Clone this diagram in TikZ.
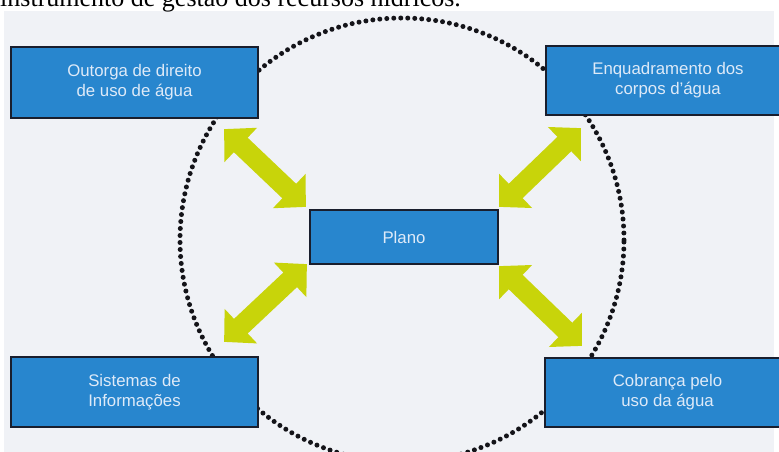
\documentclass[tikz,border=0pt]{standalone}
\usepackage{fontspec}
\setmainfont{Liberation Serif}
\setsansfont{Liberation Sans}
\usetikzlibrary{arrows.meta,calc}
\definecolor{bg}{RGB}{240,242,246}
\definecolor{boxblue}{RGB}{40,134,206}
\definecolor{boxline}{RGB}{25,30,45}
\definecolor{lime}{RGB}{200,212,10}
\definecolor{txt}{RGB}{222,234,248}
\definecolor{dotc}{RGB}{20,20,25}
\tikzset{
  box/.style={draw=boxline, line width=2.2pt, fill=boxblue, text=txt,
    font=\sffamily\fontsize{16.8}{20}\selectfont, align=center, inner sep=0pt},
  bigarrow/.style={draw=lime, line width=20pt,
    {Triangle[length=23pt,width=46pt]}-{Triangle[length=23pt,width=46pt]}},
  dotline/.style={draw=dotc, line width=5pt, line cap=round, dash pattern=on 0pt off 7pt},
}
\begin{document}
\begin{tikzpicture}[x=1pt,y=-1pt]
\useasboundingbox (0,0) rectangle (779,452);
\fill[white] (0,0) rectangle (779,452);
\fill[bg] (4,11) rectangle (774,452);
\node[anchor=base west, inner sep=0pt, font=\fontsize{26}{30}\selectfont] (title) at (0,7) {instrumento de gestão dos recursos hídricos.};
\draw[dotline] (402,240) circle[radius=222pt];
\node[box, minimum width=247pt, minimum height=71pt] (tl) at (134.5,82.5) {Outorga de direito\\de uso de água};
\node[box, minimum width=244pt, minimum height=69pt] (tr) at (668,80.5) {Enquadramento dos\\corpos d'água};
\node[box, minimum width=188pt, minimum height=54pt] (pl) at (404,237) {Plano};
\node[box, minimum width=247pt, minimum height=70pt] (bl) at (134.5,392) {Sistemas de\\Informações};
\node[box, minimum width=245pt, minimum height=69pt] (br) at (667.5,392.5) {Cobrança pelo\\uso da água};
\coordinate (a1s) at ($(tl.south east)+(-35,10)$);
\coordinate (a1e) at ($(pl.north west)+(-3,-2)$);
\coordinate (a2s) at ($(tr.south west)+(36,12)$);
\coordinate (a2e) at ($(pl.north east)+(0,-2)$);
\coordinate (a3s) at ($(bl.north east)+(-35,-14)$);
\coordinate (a3e) at ($(pl.south west)+(-2,-1)$);
\coordinate (a4s) at ($(br.north west)+(38,-11)$);
\coordinate (a4e) at ($(pl.south east)+(0,1)$);
\draw[bigarrow] (a1s) -- (a1e);
\draw[bigarrow] (a2s) -- (a2e);
\draw[bigarrow] (a3s) -- (a3e);
\draw[bigarrow] (a4s) -- (a4e);
\end{tikzpicture}
\end{document}
